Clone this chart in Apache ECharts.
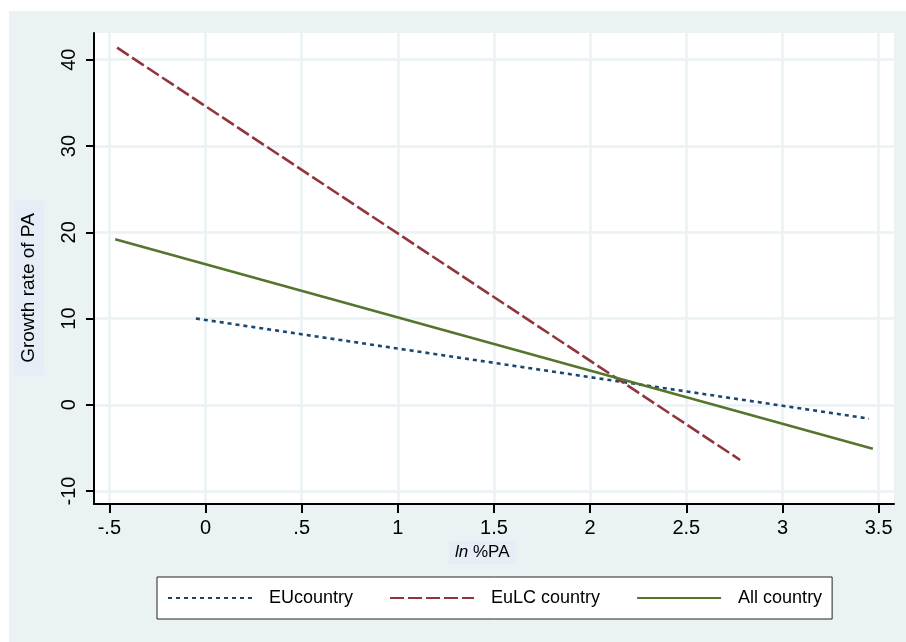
<!DOCTYPE html>
<html>
<head>
<meta charset="utf-8">
<script src="https://cdn.jsdelivr.net/npm/echarts@6/dist/echarts.min.js"></script>
<style>html,body{margin:0;padding:0;background:#fff}#c{width:906px;height:642px}</style>
</head>
<body>
<div id="c"></div>
<script>
// ---- data ----
const seriesNames = ['EUcountry', 'EuLC country', 'All country'];
const euX = [-0.05, 3.45];
const euY = [10.0, -1.6];
const eulcX = [-0.46, 2.78];
const eulcY = [41.4, -6.4];
const allX = [-0.47, 3.47];
const allY = [19.2, -5.1];
const xTicks = [-0.5, 0, 0.5, 1, 1.5, 2, 2.5, 3, 3.5];
const xTickLabels = ['-.5', '0', '.5', '1', '1.5', '2', '2.5', '3', '3.5'];
const yTicks = [-10, 0, 10, 20, 30, 40];
const yTickLabels = ['-10', '0', '10', '20', '30', '40'];
const yTitle = 'Growth rate of PA';

const FONT = "'Liberation Sans', Arial, sans-serif";
const pairs = (xs, ys) => xs.map((x, i) => [x, ys[i]]);
const lbl = (ticks, labels) => v => { const i = ticks.findIndex(t => Math.abs(t - v) < 1e-9); return i >= 0 ? labels[i] : ''; };

const chart = echarts.init(document.getElementById('c'));
chart.setOption({
  backgroundColor: '#EAF2F3',
  animation: false,
  textStyle: { fontFamily: FONT },
  graphic: [
    { type: 'rect', shape: { x: 0, y: 0, width: 906, height: 11 }, style: { fill: '#fff' }, silent: true },
    { type: 'rect', shape: { x: 0, y: 0, width: 9, height: 642 }, style: { fill: '#fff' }, silent: true },
    { type: 'text', x: 29, y: 288, rotation: Math.PI / 2,
      style: { text: yTitle, font: "19px 'Liberation Sans', Arial, sans-serif", fill: '#000',
               align: 'center', verticalAlign: 'middle', backgroundColor: '#E6EDF6', padding: [6, 13, 5, 13] } }
  ],
  title: {
    text: '{i|ln} %PA',
    left: 449, top: 541, padding: [3, 6, 3, 6],
    backgroundColor: '#E6EDF6',
    textStyle: { fontSize: 17, fontWeight: 'normal', color: '#000', fontFamily: FONT,
      rich: { i: { fontStyle: 'italic', fontSize: 17, color: '#000', fontFamily: FONT } } }
  },
  grid: { left: 94, top: 33, right: 12, bottom: 138, show: true, backgroundColor: '#fff', borderWidth: 0, containLabel: false },
  xAxis: {
    type: 'value', min: -0.58, max: 3.58,
    axisLine: { show: true, onZero: false, lineStyle: { color: '#000', width: 2 } },
    axisTick: { show: true, length: 9, lineStyle: { color: '#000', width: 2 }, customValues: xTicks },
    axisLabel: { customValues: xTicks, formatter: lbl(xTicks, xTickLabels), fontSize: 20, color: '#000', margin: 14, fontFamily: FONT },
    splitLine: { show: true, lineStyle: { color: '#EAF2F3', width: 2.5 } }
  },
  yAxis: {
    type: 'value', min: -11.5, max: 43.1,
    axisLine: { show: true, onZero: false, lineStyle: { color: '#000', width: 2 } },
    axisTick: { show: true, length: 8, lineStyle: { color: '#000', width: 2 }, customValues: yTicks },
    axisLabel: { customValues: yTicks, formatter: lbl(yTicks, yTickLabels), rotate: 90, fontSize: 20, color: '#000', margin: 15, fontFamily: FONT },
    splitLine: { show: true, lineStyle: { color: '#EAF2F3', width: 2.5 } }
  },
  legend: {
    left: 157, top: 577, orient: 'horizontal',
    backgroundColor: '#fff', borderColor: '#222', borderWidth: 1,
    padding: [12, 10, 12, 10], itemGap: 36, itemWidth: 84, itemHeight: 16,
    itemStyle: { opacity: 0 },
    textStyle: { fontSize: 18, color: '#000', fontFamily: FONT, padding: [0, 0, 0, 12] },
    data: seriesNames
  },
  series: [
    { name: seriesNames[0], type: 'line', data: pairs(euX, euY), showSymbol: false, symbol: 'none',
      lineStyle: { color: '#1A476F', width: 2.6, type: [4, 4] }, itemStyle: { color: '#1A476F' } },
    { name: seriesNames[1], type: 'line', data: pairs(eulcX, eulcY), showSymbol: false, symbol: 'none',
      lineStyle: { color: '#90353B', width: 2.6, type: [14, 4] }, itemStyle: { color: '#90353B' } },
    { name: seriesNames[2], type: 'line', data: pairs(allX, allY), showSymbol: false, symbol: 'none',
      lineStyle: { color: '#55752F', width: 2.6, type: 'solid' }, itemStyle: { color: '#55752F' } }
  ]
});
</script>
</body>
</html>
